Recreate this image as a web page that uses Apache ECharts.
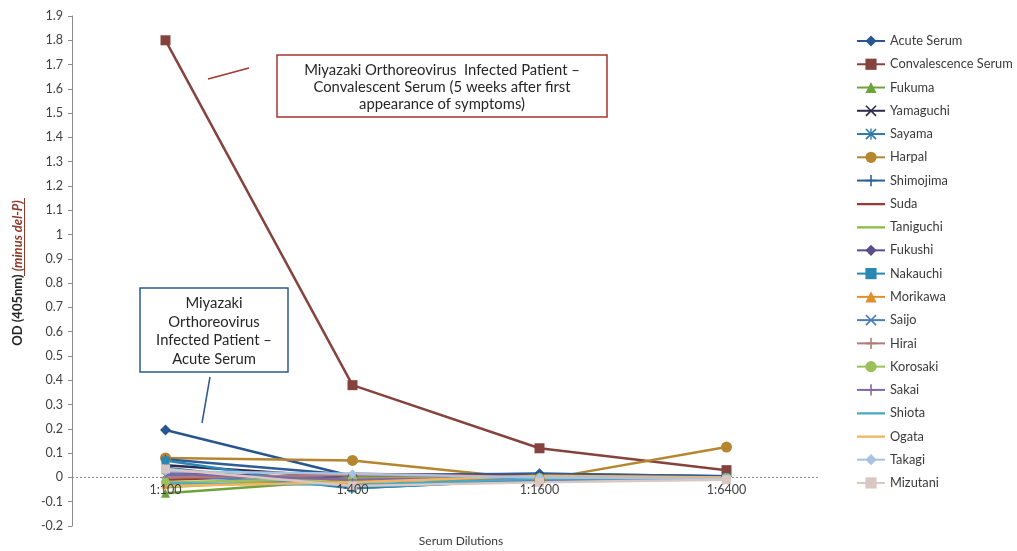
<!DOCTYPE html>
<html>
<head>
<meta charset="utf-8">
<script src="https://cdn.jsdelivr.net/npm/echarts@6/dist/echarts.min.js"></script>
<style>
  html, body { margin: 0; padding: 0; background: #fff; }
  #chart { width: 1017px; height: 551px; }
</style>
</head>
<body>
<div id="chart"></div>
<script>
// Serum dilutions on the x axis
const dilutions = ['1:100', '1:400', '1:1600', '1:6400'];

// OD (405nm) readings, minus del-P, per serum sample
const acuteSerum        = [0.195, 0.005, 0.015, 0.005];
const convalescentSerum = [1.80, 0.38, 0.12, 0.03];
const fukuma    = [-0.065, -0.010, -0.010, 0.000];
const yamaguchi = [0.050, 0.000, 0.005, 0.000];
const sayama    = [0.040, -0.045, -0.010, 0.000];
const harpal    = [0.080, 0.070, -0.010, 0.125];
const shimojima = [0.075, 0.010, 0.015, 0.005];
const suda      = [-0.010, 0.015, 0.005, 0.000];
const taniguchi = [-0.040, 0.000, -0.005, 0.000];
const fukushi   = [0.020, -0.005, 0.000, 0.000];
const nakauchi  = [0.070, -0.045, -0.010, 0.000];
const morikawa  = [-0.030, -0.020, 0.005, 0.000];
const saijo     = [0.010, -0.035, -0.010, 0.000];
const hirai     = [0.000, 0.010, 0.000, 0.000];
const korosaki  = [-0.020, -0.005, 0.000, 0.000];
const sakai     = [0.015, -0.010, 0.000, 0.000];
const shiota    = [-0.025, -0.030, -0.005, 0.000];
const ogata     = [-0.035, -0.020, 0.007, 0.000];
const takagi    = [0.025, 0.015, 0.000, -0.005];
const mizutani  = [0.035, -0.035, -0.020, -0.010];

// Y axis range and step
const yMin = -0.2, yMax = 1.9, yStep = 0.1;

// Marker shapes
const X_MARK = 'path://M1,0L5,4L9,0L10,1L6,5L10,9L9,10L5,6L1,10L0,9L4,5L0,1Z';
const STAR_MARK = 'path://M1,0L5,4L9,0L10,1L6,5L10,9L9,10L5,6L1,10L0,9L4,5L0,1Z M4.4,0H5.6V10H4.4Z';
const PLUS_MARK = 'path://M4.3,0H5.7V4.3H10V5.7H5.7V10H4.3V5.7H0V4.3H4.3Z';
// Plain line for legend entries of series drawn without markers
const LINE_ONLY = 'path://M0,0H0.01V14H0Z M0,6H30V8.5H0Z';

const seriesDefs = [
  { name: 'Acute Serum',         data: acuteSerum,        color: '#2A5690', symbol: 'diamond',  size: 11 },
  { name: 'Convalescence Serum', data: convalescentSerum, color: '#86433D', symbol: 'rect',     size: 10 },
  { name: 'Fukuma',    data: fukuma,    color: '#6FA33A', symbol: 'triangle', size: 9 },
  { name: 'Yamaguchi', data: yamaguchi, color: '#2D2A4E', symbol: X_MARK,     size: 8 },
  { name: 'Sayama',    data: sayama,    color: '#2F7AA6', symbol: STAR_MARK,  size: 8 },
  { name: 'Harpal',    data: harpal,    color: '#B5862F', symbol: 'circle',   size: 11 },
  { name: 'Shimojima', data: shimojima, color: '#2E5C97', symbol: PLUS_MARK,  size: 9 },
  { name: 'Suda',      data: suda,      color: '#9A3A36', symbol: 'none',     size: 0 },
  { name: 'Taniguchi', data: taniguchi, color: '#86BB3F', symbol: 'none',     size: 0 },
  { name: 'Fukushi',   data: fukushi,   color: '#5B4D8A', symbol: 'diamond',  size: 8 },
  { name: 'Nakauchi',  data: nakauchi,  color: '#2A88B3', symbol: 'rect',     size: 8 },
  { name: 'Morikawa',  data: morikawa,  color: '#E08F2C', symbol: 'triangle', size: 8 },
  { name: 'Saijo',     data: saijo,     color: '#4B7DBA', symbol: X_MARK,     size: 8 },
  { name: 'Hirai',     data: hirai,     color: '#B07B79', symbol: PLUS_MARK,  size: 8 },
  { name: 'Korosaki',  data: korosaki,  color: '#9BC05A', symbol: 'circle',   size: 9 },
  { name: 'Sakai',     data: sakai,     color: '#8068A3', symbol: PLUS_MARK,  size: 8 },
  { name: 'Shiota',    data: shiota,    color: '#49A9C4', symbol: 'none',     size: 0 },
  { name: 'Ogata',     data: ogata,     color: '#F3B45E', symbol: 'none',     size: 0 },
  { name: 'Takagi',    data: takagi,    color: '#A9C2E2', symbol: 'diamond',  size: 9 },
  { name: 'Mizutani',  data: mizutani,  color: '#D8C7C2', symbol: 'rect',     size: 9 }
];

const FONT = 'Lato, "Open Sans", sans-serif';

const chart = echarts.init(document.getElementById('chart'), null, { renderer: 'canvas' });

const series = seriesDefs.map(s => ({
  name: s.name,
  type: 'line',
  data: s.data,
  symbol: s.symbol,
  symbolSize: s.size,
  showSymbol: s.symbol !== 'none',
  lineStyle: { color: s.color, width: 2.5 },
  itemStyle: { color: s.color, borderColor: s.color, borderWidth: 0 },
  emphasis: { disabled: true }
}));

// Dotted zero baseline across the plot
series[0].markLine = {
  silent: true,
  symbol: 'none',
  label: { show: false },
  lineStyle: { color: '#8c8c8c', type: [2, 2], width: 1 },
  data: [{ yAxis: 0 }],
  z: 0
};

const option = {
  backgroundColor: '#ffffff',
  animation: false,
  textStyle: { fontFamily: FONT },
  grid: { left: 72, right: 197, top: 16, bottom: 25, containLabel: false, outerBoundsMode: 'none' },
  legend: {
    orient: 'vertical',
    left: 851,
    top: 29,
    itemWidth: 28,
    itemHeight: 14,
    itemGap: 9.26,
    textStyle: { fontFamily: FONT, fontSize: 12.8, lineHeight: 14, color: '#3a3a3a' },
    data: seriesDefs.map(s => s.symbol === 'none'
      ? { name: s.name, icon: LINE_ONLY, itemStyle: { color: s.color } }
      : { name: s.name })
  },
  xAxis: {
    type: 'category',
    data: dilutions,
    boundaryGap: true,
    z: 10,
    name: 'Serum Dilutions',
    nameLocation: 'middle',
    nameGap: 9,
    nameTextStyle: { fontFamily: FONT, fontSize: 12, color: '#3a3a3a', padding: [0, 0, 0, 30] },
    axisLine: { show: false, onZero: false },
    axisTick: { show: false },
    // labels sit just under the zero baseline
    axisLabel: { fontFamily: FONT, fontSize: 12.5, color: '#3f3f3f', margin: -43 },
    splitLine: { show: false }
  },
  yAxis: {
    type: 'value',
    min: yMin,
    max: yMax,
    interval: yStep,
    axisLine: { show: true, onZero: false, lineStyle: { color: '#8c8c8c', width: 1 } },
    axisTick: { show: true, inside: false, length: 4, lineStyle: { color: '#8c8c8c' } },
    axisLabel: {
      fontFamily: FONT, fontSize: 12.5, color: '#3f3f3f', margin: 9,
      formatter: v => String(+v.toFixed(1))
    },
    splitLine: { show: false }
  },
  series: series,
  graphic: [
    // y axis title, reading bottom-to-top
    {
      type: 'text',
      x: 18, y: 273,
      rotation: Math.PI / 2,
      style: {
        text: '{a|OD (405nm) }{b|(minus del-P)}',
        align: 'center',
        verticalAlign: 'middle',
        rich: {
          a: { fontFamily: FONT, fontSize: 13, fontWeight: 'bold', fill: '#262626' },
          b: { fontFamily: FONT, fontSize: 13, fontWeight: 'bold', fontStyle: 'italic', fill: '#8B3A2A' }
        }
      }
    },
    // underline under "(minus del-P)"
    { type: 'rect', shape: { x: 24, y: 198, width: 1, height: 78 }, style: { fill: '#8B3A2A' } },

    // Convalescent serum callout
    {
      type: 'rect',
      shape: { x: 277, y: 55, width: 330, height: 62 },
      style: { fill: '#ffffff', stroke: '#A4362F', lineWidth: 1.5 }
    },
    {
      type: 'text', x: 442, y: 87,
      style: {
        text: 'Miyazaki Orthoreovirus  Infected Patient \u2013\nConvalescent Serum (5 weeks after first\nappearance of symptoms)',
        align: 'center', verticalAlign: 'middle',
        fontFamily: FONT, fontSize: 14.8, lineHeight: 16.8, fill: '#262626'
      }
    },
    { type: 'line', shape: { x1: 208, y1: 79, x2: 249, y2: 68 }, style: { stroke: '#A4362F', lineWidth: 1.5 } },

    // Acute serum callout
    {
      type: 'rect',
      shape: { x: 140, y: 288, width: 148, height: 84 },
      style: { fill: '#ffffff', stroke: '#2B5890', lineWidth: 1.5 }
    },
    {
      type: 'text', x: 214, y: 331,
      style: {
        text: 'Miyazaki\nOrthoreovirus\nInfected Patient \u2013\nAcute Serum',
        align: 'center', verticalAlign: 'middle',
        fontFamily: FONT, fontSize: 14.8, lineHeight: 18.5, fill: '#262626'
      }
    },
    { type: 'line', shape: { x1: 210, y1: 377, x2: 202, y2: 423 }, style: { stroke: '#2B5890', lineWidth: 1.5 } }
  ]
};

chart.setOption(option);
</script>
</body>
</html>
